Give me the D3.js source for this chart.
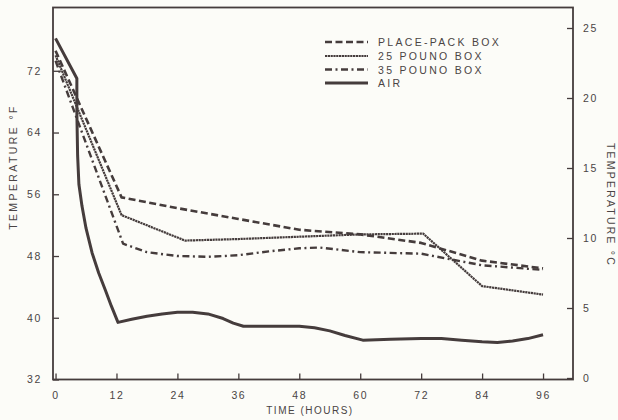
<!DOCTYPE html>
<html><head><meta charset="utf-8">
<script src="https://cdn.jsdelivr.net/npm/d3@7"></script>
<style>
html,body{margin:0;padding:0;background:#fcfcf8;}
svg{display:block;font-family:"Liberation Sans",Arial,sans-serif;}
</style></head><body>
<svg id="c" width="618" height="420"></svg>
<script>
// ---- data ----
const hourTicks = [0, 12, 24, 36, 48, 60, 72, 84, 96];
const fahrenheitTicks = [32, 40, 48, 56, 64, 72];
const celsiusTicks = [0, 5, 10, 15, 20, 25];
const seriesNames = ["PLACE-PACK BOX", "25 POUNO BOX", "35 POUNO BOX", "AIR"];

const placePackHours = [0, 13, 24, 36, 48, 60, 72, 84, 96];
const placePackF     = [74.6, 55.6, 54.2, 52.8, 51.4, 50.8, 49.7, 47.4, 46.4];

const box25Hours = [0, 13, 25.5, 36, 48, 60, 72.4, 84, 96];
const box25F     = [74.0, 53.3, 50.0, 50.2, 50.5, 50.8, 50.9, 44.1, 43.0];

const box35Hours = [0, 13.3, 18, 24, 30, 36, 42, 48, 52, 60, 72, 84, 96];
const box35F     = [73.3, 49.6, 48.5, 48.0, 47.9, 48.1, 48.6, 49.0, 49.1, 48.5, 48.3, 46.8, 46.2];

const airHours = [0, 4.2, 4.2, 4.35, 4.6, 5.2, 6.0, 7.2, 8.5, 9.8, 11.0, 12.3, 15, 18, 21, 24, 27, 30, 33, 35, 37, 44, 48, 51, 54, 57, 60.5, 66, 72, 76, 80, 84, 87, 90, 93, 96];
const airF     = [76.2, 71.0, 66.5, 61.0, 57.3, 54.5, 51.6, 48.4, 45.8, 43.6, 41.5, 39.4, 39.8, 40.2, 40.5, 40.7, 40.7, 40.5, 39.9, 39.3, 38.9, 38.9, 38.9, 38.7, 38.3, 37.7, 37.1, 37.2, 37.3, 37.3, 37.1, 36.9, 36.8, 37.0, 37.3, 37.8];

// ---- layout ----
const ink = "#453c3c";
const textInk = "#4a4444";
const L = 53, R = 573, T = 7.5, B = 379.5;
const svg = d3.select("#c");
svg.append("rect").attr("width", 618).attr("height", 420).attr("fill", "#fcfcf8");

const x = d3.scaleLinear().domain([-0.5, 101.9]).range([L, R]);
const y = d3.scaleLinear().domain([32, 80.2]).range([B, T]);
const yC = d3.scaleLinear().domain([0, 25]).range([378, 28]);

const styles = [
  {w: 2.6, dash: "7,3.5"},
  {w: 2.2, dash: "2.2,0.6"},
  {w: 2.4, dash: "7,3.5,2,3.5"},
  {w: 3.0, dash: null}
];

function styleAxis(g) {
  g.select(".domain").remove();
  g.selectAll(".tick line").attr("stroke", ink).attr("stroke-width", 1.3);
  g.selectAll(".tick text").attr("fill", textInk).style("font-size", "10.5px").style("letter-spacing", "1.6px");
}

svg.append("g").attr("transform", `translate(${L},0)`)
  .call(d3.axisLeft(y).tickValues(fahrenheitTicks).tickSizeInner(-6).tickSizeOuter(0).tickPadding(11))
  .call(styleAxis);
svg.append("g").attr("transform", `translate(${R},0)`)
  .call(d3.axisRight(yC).tickValues(celsiusTicks).tickSizeInner(-6).tickSizeOuter(0).tickPadding(10))
  .call(styleAxis);
svg.append("g").attr("transform", `translate(0,${B})`)
  .call(d3.axisBottom(x).tickValues(hourTicks).tickSizeInner(-6).tickSizeOuter(0).tickPadding(12).tickFormat(d3.format("d")))
  .call(styleAxis);

// frame
svg.append("rect").attr("x", L).attr("y", T).attr("width", R - L).attr("height", B - T)
  .attr("fill", "none").attr("stroke", ink).attr("stroke-width", 1.8);

// series
const line = d3.line().x(d => x(d[0])).y(d => y(d[1]));
const series = [
  d3.zip(placePackHours, placePackF),
  d3.zip(box25Hours, box25F),
  d3.zip(box35Hours, box35F),
  d3.zip(airHours, airF)
];
series.forEach((s, i) => {
  svg.append("path").datum(s).attr("d", line)
    .attr("fill", "none").attr("stroke", ink)
    .attr("stroke-width", styles[i].w)
    .attr("stroke-dasharray", styles[i].dash)
    .attr("stroke-linejoin", "round");
});

// legend
const legY = [42, 56, 69.5, 83];
seriesNames.forEach((n, i) => {
  svg.append("line").attr("x1", 325).attr("x2", 368).attr("y1", legY[i]).attr("y2", legY[i])
    .attr("stroke", ink).attr("stroke-width", styles[i].w).attr("stroke-dasharray", styles[i].dash);
  svg.append("text").attr("x", 378).attr("y", legY[i] + 4).text(n)
    .attr("fill", textInk).style("font-size", "10.5px").style("letter-spacing", "2.3px");
});

// axis titles
svg.append("text").attr("transform", "translate(17,167) rotate(-90)").attr("text-anchor", "middle")
  .text("TEMPERATURE °F").attr("fill", textInk).style("font-size", "10.5px").style("letter-spacing", "2.4px");
svg.append("text").attr("transform", "translate(607,205) rotate(90)").attr("text-anchor", "middle")
  .text("TEMPERATURE °C").attr("fill", textInk).style("font-size", "10.5px").style("letter-spacing", "2.2px");
svg.append("text").attr("x", 310).attr("y", 414).attr("text-anchor", "middle")
  .text("TIME (HOURS)").attr("fill", textInk).style("font-size", "10px").style("letter-spacing", "1.5px");
</script>
</body></html>
